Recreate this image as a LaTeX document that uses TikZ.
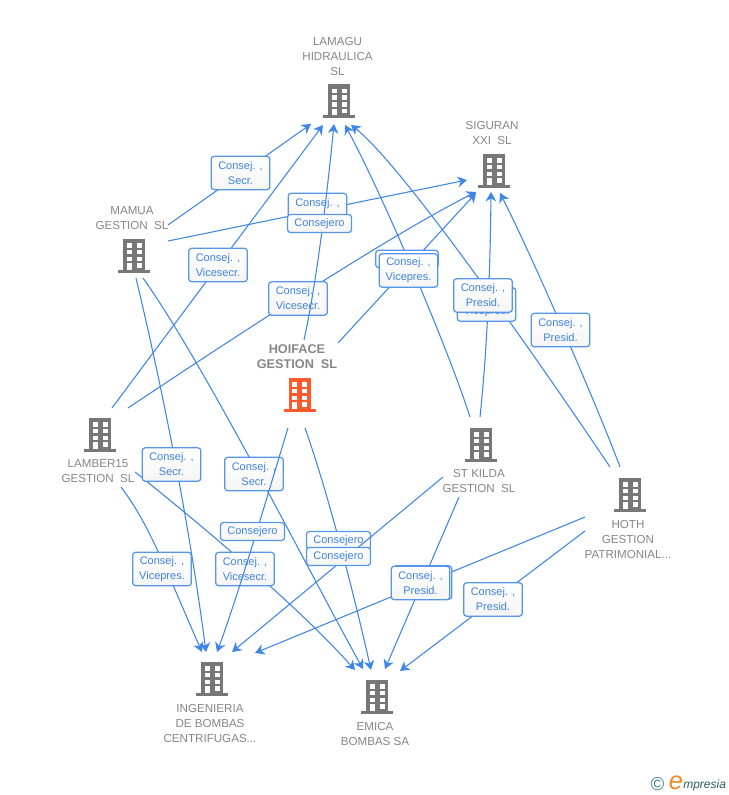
\documentclass[tikz,border=0pt]{standalone}
\usepackage{fontspec}
\setmainfont{Liberation Sans}
\usetikzlibrary{arrows.meta}
\definecolor{linkblue}{HTML}{3F86E6}
\definecolor{boxblue}{HTML}{5596E8}
\definecolor{labblue}{HTML}{3F82DC}
\definecolor{namegray}{HTML}{868686}
\definecolor{bldgray}{HTML}{777777}
\definecolor{bldred}{HTML}{FF5A2B}
\definecolor{logoteal}{HTML}{3F7F95}
\definecolor{logoorange}{HTML}{F08A24}
\tikzset{
  link/.style={draw=linkblue,line width=.8pt,-{Stealth[length=7pt,width=8pt,inset=2.2pt]}},
  lab/.style={draw=boxblue,line width=.95pt,rounded corners=2.2pt,top color=white,bottom color=black!4,
    text=labblue,font=\fontsize{8.25}{11.25}\selectfont,align=center,inner sep=0pt,
    minimum width=44pt,minimum height=25pt},
  labone/.style={lab,minimum width=48pt,minimum height=13.5pt},
  bname/.style={text=namegray,font=\fontsize{8.7}{11.25}\selectfont,align=center,inner sep=0pt},
  bld/.style={inner sep=0pt,minimum width=24.75pt,minimum height=25.5pt,
    path picture={
      \begin{scope}[shift={(path picture bounding box.center)}]
        \fill[#1] (-11,-17) rectangle (11,14.5);
        \fill[#1] (-16,14) rectangle (16,17);
        \foreach \yy in {-12.7,-6,0.7}{
          \fill[white] (-7.3,\yy) rectangle ++(5,4.4);
          \fill[white] (2.7,\yy) rectangle ++(5,4.4);
        }
        \fill[white] (-7.3,7.3) rectangle (-2.3,14);
        \fill[white] (2.7,7.3) rectangle (7.7,11.7);
      \end{scope}
    }},
}
\begin{document}
\begin{tikzpicture}[x=.75pt,y=-.75pt]
\useasboundingbox (0,0) rectangle (728,795);
% buildings
\node[bld=bldgray] (lamagu) at (339,101.5) {};
\node[bld=bldgray] (siguran) at (494,171) {};
\node[bld=bldgray] (mamua) at (134,256) {};
\node[bld=bldred] (hoiface) at (299.5,395) {};
\node[bld=bldgray] (lamber) at (100,435) {};
\node[bld=bldgray] (stkilda) at (481,445) {};
\node[bld=bldgray] (hoth) at (630,495) {};
\node[bld=bldgray] (ingenieria) at (212,679) {};
\node[bld=bldgray] (emica) at (377,697) {};
% names
\node[bname] (nlamagu) at (337.5,56.5) {LAMAGU\\HIDRAULICA\\SL};
\node[bname] (nsiguran) at (492,133) {SIGURAN\\XXI\ \ SL};
\node[bname] (nmamua) at (132,218) {MAMUA\\GESTION\ \ SL};
\node[bname,font=\bfseries\fontsize{9.5}{11.25}\selectfont] (nhoiface) at (297,356.5) {HOIFACE\\GESTION\ \ SL};
\node[bname] (nlamber) at (98,471) {LAMBER15\\GESTION\ \ SL};
\node[bname] (nstkilda) at (479,481) {ST KILDA\\GESTION\ \ SL};
\node[bname] (nhoth) at (628,539) {HOTH\\GESTION\\PATRIMONIAL...};
\node[bname] (ningenieria) at (210,723) {INGENIERIA\\DE BOMBAS\\CENTRIFUGAS...};
\node[bname] (nemica) at (375,733.5) {EMICA\\BOMBAS SA};
% connector ends
\coordinate (mamuaA) at (168,225);   \coordinate (lamaguA) at (311,124);
\coordinate (lamberA) at (112,408);  \coordinate (lamaguB) at (323,125);
\coordinate (hoifaceA) at (304,340); \coordinate (lamaguC) at (334,124);
\coordinate (stkildaA) at (470,417); \coordinate (lamaguD) at (345,125);
\coordinate (hothA) at (610,467);    \coordinate (lamaguE) at (351,125);
\coordinate (mamuaB) at (168,241);   \coordinate (siguranA) at (467,180);
\coordinate (lamberB) at (128,408);  \coordinate (siguranB) at (476,192);
\coordinate (hoifaceB) at (338,343); \coordinate (siguranC) at (476,193);
\coordinate (stkildaB) at (480,417); \coordinate (siguranD) at (491,192);
\coordinate (hothB) at (620,467);    \coordinate (siguranE) at (500,193);
\coordinate (mamuaC) at (136,278);   \coordinate (ingB) at (206,652);
\coordinate (mamuaD) at (143,278);   \coordinate (emicaB) at (363,669);
\coordinate (hoifaceC) at (288,428); \coordinate (ingC) at (217,652);
\coordinate (hoifaceD) at (305,428); \coordinate (emicaC) at (371,670);
\coordinate (lamberC) at (121,487);  \coordinate (ingA) at (202,652);
\coordinate (lamberD) at (135,472);  \coordinate (emicaA) at (355,670);
\coordinate (stkildaC) at (443,477); \coordinate (ingD) at (232,652);
\coordinate (stkildaD) at (459,497); \coordinate (emicaD) at (385,669);
\coordinate (hothC) at (585,517);    \coordinate (ingE) at (255,653);
\coordinate (hothD) at (585,531);    \coordinate (emicaE) at (400,671);
% connectors under the labels
\draw[link] (mamuaA) -- (lamaguA);
\draw[link] (lamberA) -- (lamaguB);
\draw[link] (stkildaA) .. controls (445,340) and (380,190) .. (lamaguD);
\draw[link] (hothA) .. controls (555,385) and (405,167) .. (lamaguE);
\draw[link] (mamuaB) -- (siguranA);
\draw[link] (lamberB) .. controls (230,340) and (390,235) .. (siguranB);
\draw[link] (hoifaceB) -- (siguranC);
\draw[link] (stkildaB) .. controls (486,360) and (490,290) .. (siguranD);
\draw[link] (hothB) .. controls (595,400) and (530,252) .. (siguranE);
\draw[link] (mamuaC) .. controls (165,400) and (190,530) .. (ingB);
\draw[link] (mamuaD) .. controls (205,365) and (314,581) .. (emicaB);
\draw[link] (hoifaceD) .. controls (327,490) and (353,590) .. (emicaC);
\draw[link] (lamberC) .. controls (150,525) and (168,575) .. (ingA);
\draw[link] (lamberD) .. controls (195,520) and (295,603) .. (emicaA);
\draw[link] (stkildaD) -- (emicaD);
\draw[link] (hothC) -- (ingE);
\draw[link] (hothD) -- (emicaE);
% labels
\node[lab] (l1) at (240.5,173) {Consej. ,\\Secr.};
\node[lab] (l2) at (218,265) {Consej. ,\\Vicesecr.};
\node[lab] (l6) at (317.5,210) {Consej. ,\\~};
\node[lab] (l7) at (298,298.5) {Consej. ,\\Vicesecr.};
\node[lab,minimum width=47pt,minimum height=13pt] (l4) at (407,259) {};
\node[lab] (l8) at (408.5,270.5) {Consej. ,\\Vicepres.};
\node[lab] (l5) at (486.5,304.5) {Consej. ,\\Vicepres.};
\node[lab] (l9) at (483,295.5) {Consej. ,\\Presid.};
\node[lab] (l10) at (560.5,330) {Consej. ,\\Presid.};
\node[lab] (l11) at (171.5,464.5) {Consej. ,\\Secr.};
\node[lab] (l12) at (254,474) {Consej. ,\\Secr.};
\node[lab] (l15) at (162,569) {Consej. ,\\Vicepres.};
\node[lab] (l16) at (245,569) {Consej. ,\\Vicesecr.};
\node[labone] (l17) at (338.5,540.5) {Consejero};
\node[lab] (l18) at (422.5,582.5) {};
\node[lab] (l19) at (420.5,583) {Consej. ,\\Presid.};
\node[lab] (l20) at (493,599.5) {Consej. ,\\Presid.};
% connectors that run over earlier labels, with their own labels on top
\draw[link] (hoifaceA) .. controls (316,285) and (326,205) .. (lamaguC);
\draw[link] (hoifaceC) .. controls (272,480) and (240,590) .. (ingC);
\draw[link] (stkildaC) -- (ingD);
\node[labone] (l3) at (319.5,223.5) {Consejero};
\node[labone] (l13) at (252.5,531.5) {Consejero};
\node[labone] (l14) at (338.5,556.5) {Consejero};
% logo
\node[text=logoteal,inner sep=0pt,font=\fontsize{14}{16}\selectfont] (copy) at (657.5,784.5) {©};
\node[text=logoorange,inner sep=0pt,font=\itshape\fontsize{19}{19}\selectfont] (logoe) at (676,783) {e};
\node[text=logoteal!70!black,inner sep=0pt,anchor=west,font=\itshape\fontsize{9}{11}\selectfont] (logot) at (683,785.5) {mpresia};
\end{tikzpicture}
\end{document}
